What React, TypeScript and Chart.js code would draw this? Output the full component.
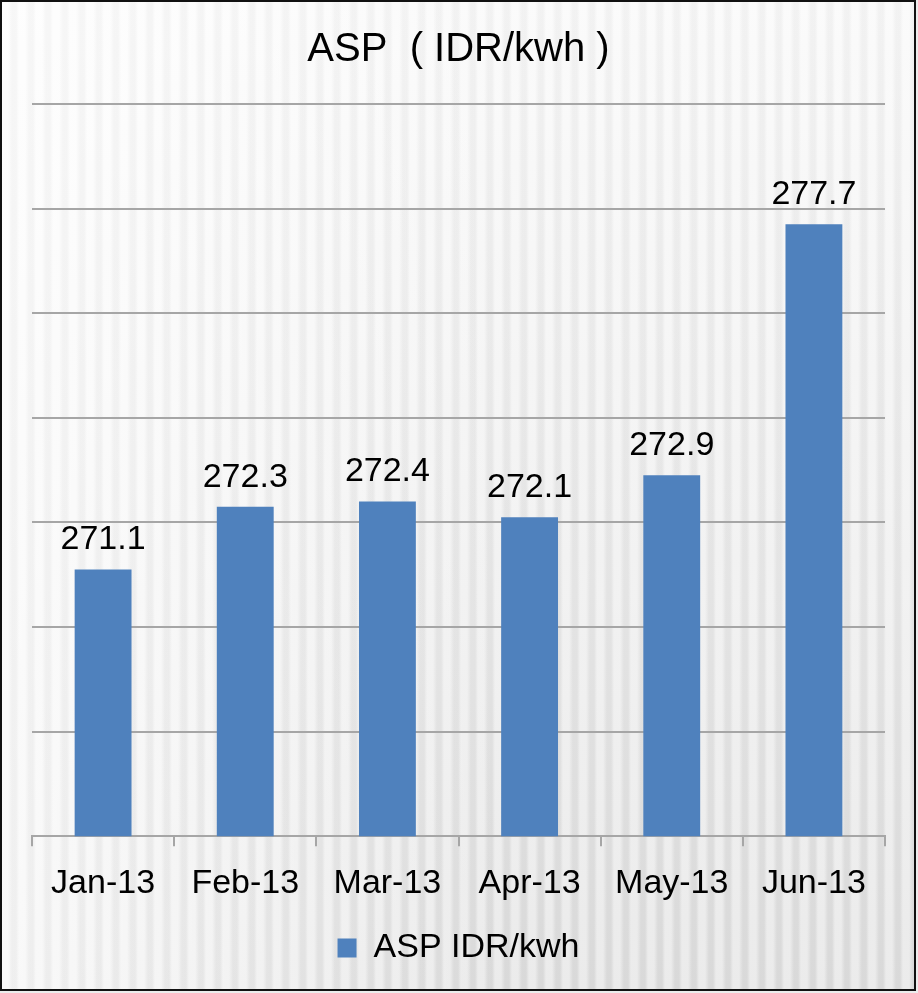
import React, { useEffect, useRef } from "react";
import { Chart, registerables } from "chart.js";

Chart.register(...registerables);

const categories = ["Jan-13", "Feb-13", "Mar-13", "Apr-13", "May-13", "Jun-13"];
const aspValues = [271.1, 272.3, 272.4, 272.1, 272.9, 277.7];
const seriesName = "ASP IDR/kwh";
const chartTitle = "ASP  ( IDR/kwh )";
const yMin = 266;
const yMax = 280;
const yStep = 2;

const FONT = "'Liberation Sans', Arial, sans-serif";

const dataLabelPlugin = {
  id: "dataLabels",
  afterDatasetsDraw(chart: any) {
    const ctx = chart.ctx;
    const meta = chart.getDatasetMeta(0);
    const data = chart.data.datasets[0].data as number[];
    ctx.save();
    ctx.font = `34px ${FONT}`;
    ctx.fillStyle = "#000";
    ctx.textAlign = "center";
    ctx.textBaseline = "alphabetic";
    meta.data.forEach((bar: any, i: number) => {
      ctx.fillText(data[i].toFixed(1), bar.x, bar.y - 20);
    });
    ctx.restore();
  },
};

export default function App() {
  const canvasRef = useRef<HTMLCanvasElement | null>(null);

  useEffect(() => {
    const canvas = canvasRef.current;
    if (!canvas) return;
    const chart = new Chart(canvas, {
      type: "bar",
      data: {
        labels: categories,
        datasets: [
          {
            label: seriesName,
            data: aspValues,
            backgroundColor: "#4F81BD",
            borderWidth: 0,
            barPercentage: 0.4,
            categoryPercentage: 1,
          },
        ],
      },
      options: {
        animation: false,
        responsive: false,
        maintainAspectRatio: false,
        layout: { padding: { left: 32, right: 33, top: 0, bottom: 18 } },
        plugins: {
          title: {
            display: true,
            text: chartTitle,
            color: "#000",
            font: { family: FONT, size: 40, weight: "normal" },
            padding: { top: 26, bottom: 30 },
          },
          legend: {
            display: true,
            position: "bottom",
            labels: {
              color: "#000",
              font: { family: FONT, size: 34 },
              boxWidth: 19,
              boxHeight: 19,
              padding: 10,
            },
          },
          tooltip: { enabled: false },
        },
        scales: {
          x: {
            offset: true,
            grid: {
              offset: true,
              drawOnChartArea: false,
              drawTicks: true,
              tickLength: 10,
              color: "#a6a6a6",
              lineWidth: 2,
            },
            border: { display: true, color: "#a6a6a6", width: 2 },
            ticks: {
              color: "#000",
              font: { family: FONT, size: 34 },
              padding: 17,
              maxRotation: 0,
              autoSkip: false,
            },
          },
          y: {
            min: yMin,
            max: yMax,
            ticks: { display: false, stepSize: yStep },
            border: { display: false },
            grid: { color: "#a6a6a6", lineWidth: 2, drawTicks: false },
            afterFit(scale: any) {
              scale.width = 0;
            },
          },
        },
      },
      plugins: [dataLabelPlugin],
    });
    return () => chart.destroy();
  }, []);

  const bg = [
    "repeating-linear-gradient(90deg, rgba(255,255,255,0.4) 0px, rgba(255,255,255,0.4) 6px, rgba(0,0,0,0.025) 10px, rgba(0,0,0,0.025) 14px, rgba(255,255,255,0.4) 17px)",
    "linear-gradient(to right, rgba(255,255,255,0.7) 0%, rgba(255,255,255,0) 55%)",
    "linear-gradient(to bottom, #f8f8f8 0%, #ededed 45%, #dedede 100%)",
  ].join(", ");

  return (
    <div style={{ position: "fixed", left: 0, top: 0, width: 918, height: 993, background: "#ececec" }}>
      <div
        style={{
          position: "absolute",
          left: 0,
          top: 0,
          width: 916,
          height: 991,
          border: "2px solid #111",
          boxSizing: "border-box",
          background: bg,
        }}
      />
      <canvas
        ref={canvasRef}
        width={918}
        height={993}
        style={{ position: "absolute", left: 0, top: 0, width: 918, height: 993 }}
      />
    </div>
  );
}
